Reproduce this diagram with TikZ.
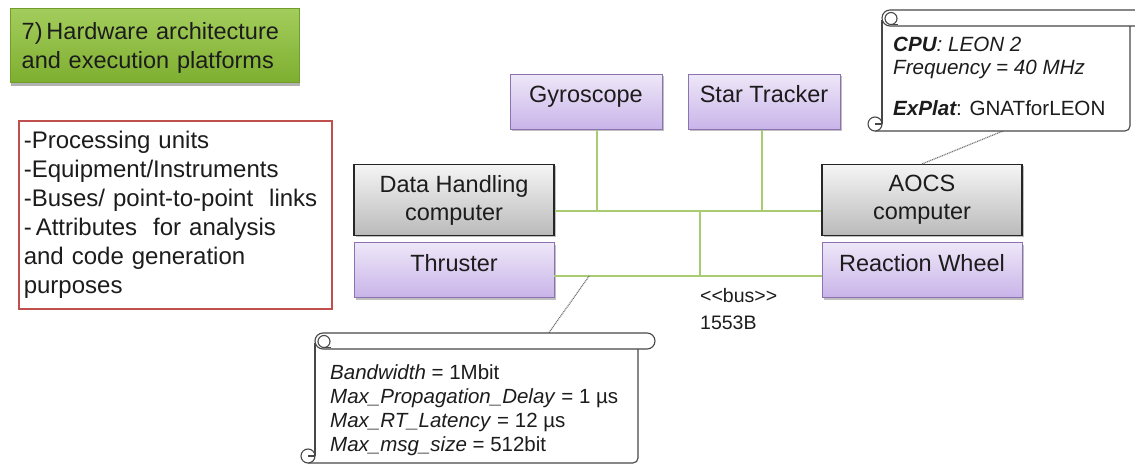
\documentclass[tikz,border=0pt]{standalone}
\usepackage{fontspec}
\setmainfont{Liberation Sans}
\usepackage{tikz}
\usetikzlibrary{calc,shadows}
\definecolor{verdeTop}{HTML}{A3CD5C}
\definecolor{verdeBot}{HTML}{7EAF30}
\definecolor{lilaTop}{HTML}{EEE7F8}
\definecolor{lilaBot}{HTML}{C9B4E9}
\definecolor{lilaLine}{HTML}{8C72B0}
\definecolor{busVerde}{HTML}{A9CC72}
\definecolor{rojo}{HTML}{C0504D}
\definecolor{tinta}{HTML}{1C1C1C}

\tikzset{
  boxshadow/.style={drop shadow={shadow xshift=1.5pt, shadow yshift=-2pt, opacity=.25, fill=black}},
  titlebox/.style={top color=verdeTop, bottom color=verdeBot, draw=verdeBot!90!black, line width=.4pt,
    minimum width=289pt, minimum height=74pt, text width=266pt, align=left, inner sep=0pt,
    font=\fontsize{23.5}{29}\selectfont, text=tinta,
    drop shadow={shadow xshift=1pt, shadow yshift=-4pt, opacity=.3, fill=black}},
  listbox/.style={draw=rojo, line width=1.6pt, fill=white, minimum width=313pt, minimum height=188pt,
    text width=303pt, align=left, inner sep=0pt, font=\fontsize{24}{29}\selectfont, text=tinta},
  hwbox/.style={draw=lilaLine, line width=.9pt, top color=lilaTop, bottom color=lilaBot,
    minimum width=152pt, minimum height=55pt, inner sep=0pt, align=center,
    text height=17pt, text depth=15pt,
    font=\fontsize{23.5}{26}\selectfont, text=tinta, boxshadow},
  cpubox/.style={draw=black!85, line width=1.1pt, top color=black!4, bottom color=black!27,
    minimum width=200pt, minimum height=71pt, inner sep=0pt, align=center,
    font=\fontsize{23.5}{28}\selectfont, text=tinta, boxshadow},
  busline/.style={draw=busVerde, line width=1.6pt},
  noteline/.style={draw=black!55, line width=1.2pt, dash pattern=on 1pt off .8pt},
  scrollline/.style={draw=black!72, line width=1.1pt},
  notetext/.style={anchor=north west, inner sep=0pt, align=left, text=tinta},
  buslabel/.style={anchor=north west, inner sep=0pt, align=left, text=tinta,
    font=\fontsize{19.5}{27}\selectfont},
}

% scroll note: x0, y0 (top), x1 (body right), y1 (bottom), band right end
\newcommand{\scrollnote}[5]{%
  \fill[white] (#1,#2+8) rectangle (#3,#4);
  \draw[scrollline, rounded corners=5pt] (#1-7,#4) -- (#3,#4) -- (#3,#2+10);
  \draw[scrollline] (#1,#2+10) -- (#1,#4-7);
  \draw[scrollline, fill=white] (#1-7,#4-7) circle (7pt);
  \draw[scrollline] (#1-7,#4-7) -- (#1,#4-7);
  \draw[scrollline, fill=white, rounded corners=8pt] (#1,#2) rectangle (#5,#2+16);
  \draw[scrollline] (#1+9,#2+8.5) circle (6pt);
  \draw[scrollline] (#1+9,#2+14.5) -- (#1+16,#2+14.5);
}

\begin{document}
\begin{tikzpicture}[x=1pt, y=-1pt]
  \useasboundingbox (0,0) rectangle (1135,465);
  % title and list
  \node[titlebox, anchor=north west] (title) at (10,8) {\rule{0pt}{23pt}7)\,Hardware architecture\\and execution platforms};
  \node[listbox, anchor=north west] (list) at (18,120)
    {-Processing units\\-Equipment/Instruments\\-Buses/ point-to-point\ \ links\\-\,Attributes\ \ for analysis\\and code generation\\purposes};
  % equipment and computers
  \node[hwbox] (gyro) at (586,102) {Gyroscope};
  \node[hwbox] (star) at (764,102) {Star Tracker};
  \node[cpubox] (dh) at (454,200) {Data Handling\\computer};
  \node[cpubox] (aocs) at (922,200) {AOCS\\computer};
  \node[hwbox, minimum width=200pt] (thr) at (454,270) {Thruster};
  \node[hwbox, minimum width=200pt] (rw) at (922,270) {Reaction Wheel};
  % bus
  \coordinate (ua) at ([yshift=-11pt]dh.east);
  \coordinate (ub) at ([yshift=-11pt]aocs.west);
  \coordinate (la) at ([yshift=-6pt]thr.east);
  \coordinate (lb) at ([yshift=-6pt]rw.west);
  \coordinate (um) at ($(ua)!0.545!(ub)$);
  \coordinate (gs) at ([xshift=11pt]gyro.south);
  \coordinate (ss) at ([xshift=-2pt]star.south);
  \draw[busline] (ua) -- (ub);
  \draw[busline] (la) -- (lb);
  \draw[busline] (um) -- (um |- la);
  \draw[busline] (gs) -- (gs |- ua);
  \draw[busline] (ss) -- (ss |- ua);
  \node[buslabel] (buslbl) at (700,288) {<\kern0pt<bus>\kern0pt>\\1553B};
  % notes
  \coordinate (cpuend) at (1003,131);
  \coordinate (busend) at (548,334);
  \coordinate (busstart) at ($(la)!0.13!(lb)$);
  \draw[noteline] (aocs.north) -- (cpuend);
  \draw[noteline] (busstart) -- (busend);
  \scrollnote{882}{10}{1130}{131}{1150}
  \node[notetext, font=\fontsize{20.6}{23}\selectfont] (cpunote) at (893,37)
    {{\bfseries\itshape CPU}\textit{: LEON 2}\\\textit{Frequency = 40 MHz}\\[18pt]{\bfseries\itshape ExPlat}: GNATforLEON};
  \scrollnote{315}{333}{638}{463}{655}
  \node[notetext, font=\fontsize{20.5}{24}\selectfont] (busnote) at (330,364)
    {\textit{Bandwidth} = 1Mbit\\\textit{Max\_Propagation\_Delay} = 1 µs\\\textit{Max\_RT\_Latency} = 12 µs\\\textit{Max\_msg\_size} = 512bit};
\end{tikzpicture}
\end{document}
